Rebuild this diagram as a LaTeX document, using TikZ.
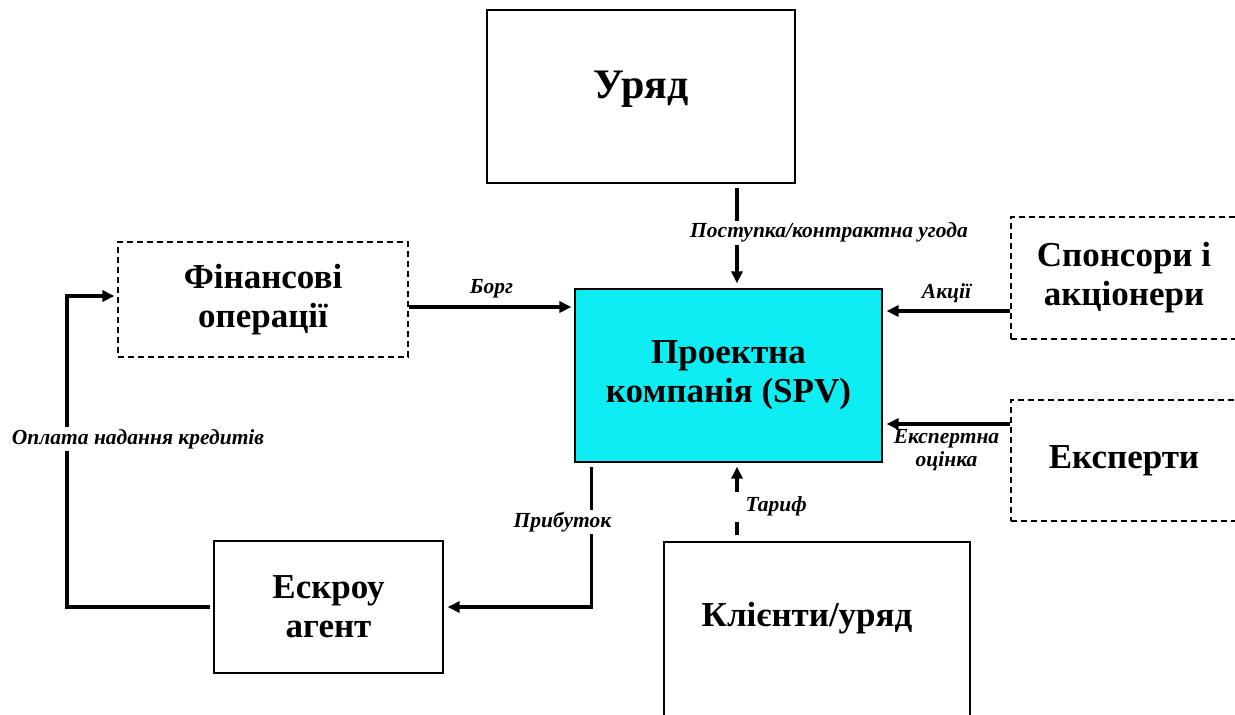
\documentclass[tikz,border=0pt]{standalone}
\usepackage{fontspec}
\setmainfont{Liberation Serif}
\usetikzlibrary{arrows.meta}
\definecolor{spvcyan}{RGB}{13,237,242}

\begin{document}
\begin{tikzpicture}[x=1pt, y=-1pt,
		box/.style={draw, line width=1.2pt, align=center, inner sep=0pt, font=\bfseries\fontsize{35}{39}\selectfont},
		dbox/.style={box, dash pattern=on 6pt off 4pt},
		arr/.style={line width=3.2pt, -{Triangle[length=12pt, width=11pt]}},
		lbl/.style={font=\bfseries\itshape\fontsize{21.5}{23}\selectfont, inner sep=2pt},
		gap/.style={lbl, fill=white}]
		\useasboundingbox (0,0) rectangle (1235,715);

		% учасники
		\node [box, minimum width=308pt, minimum height=173pt, font=\bfseries\fontsize{42}{46}\selectfont, text depth=24pt] (gov) at ( 641, 96.5 ) {Уряд};
		\node [dbox, minimum width=290pt, minimum height=115pt] (fin) at ( 263, 299.5 ) {Фінансові\\операції};
		\node [box, fill=spvcyan, minimum width=307pt, minimum height=173pt] (spv) at ( 728.5, 375.5 ) {Проектна\\компанія (SPV)};
		\node [dbox, minimum width=226pt, minimum height=122pt] (spons) at ( 1124, 278 ) {Спонсори і\\акціонери};
		\node [dbox, minimum width=226pt, minimum height=121pt] (exp) at ( 1124, 460.5 ) {Експерти};
		\node [box, minimum width=229pt, minimum height=132pt] (esc) at ( 328.5, 607 ) {Ескроу\\агент};
		\node [box, minimum width=306pt, minimum height=178pt, text depth=33pt] (cli) at ( 817, 631 ) {Клієнти/уряд\hspace*{20pt}};

		% потоки до SPV
		\draw [arr, shorten <=4pt, shorten >=5pt] ([xshift=96pt]gov.south) -- node [gap, pos=0.47, xshift=92pt] {Поступка/контрактна угода} ([xshift=8.5pt]spv.north);
		\draw [arr, shorten >=3pt] ([yshift=-7.5pt]fin.east) -- node [lbl, above=5pt] {Борг} ([yshift=-7.5pt]fin.east -| spv.west);
		\draw [arr, shorten >=4pt] ([yshift=-33pt]spons.west) -- node [lbl, above=5pt] {Акції} ([yshift=-33pt]spons.west -| spv.east);
		\draw [arr, shorten >=4pt] ([yshift=36.5pt]exp.west) -- node [lbl, below=2pt, align=center] {Експертна\\оцінка} ([yshift=36.5pt]exp.west -| spv.east);
		\draw [arr, shorten <=6pt, shorten >=4pt] ([xshift=-80pt]cli.north) -- node [gap, pos=0.44, anchor=west, xshift=-4pt, minimum height=30pt] {\hspace*{9pt}Тариф} ([xshift=8.5pt]spv.south);

		% потоки від SPV
		\draw [arr, shorten <=4pt, shorten >=4pt] ([xshift=17pt]spv.south west) |- node [gap, pos=0.207, xshift=-29pt] {Прибуток} (esc.east);

		% ескроу -> фінансові операції
		\coordinate (corner) at ( 67, 296 );
		\draw [arr, shorten <=3pt, shorten >=3pt] (esc.west) -- (esc.west -| corner) -- node [gap, pos=0.54, xshift=71pt] {Оплата надання кредитів} (corner) -- (corner -| fin.west);
	\end{tikzpicture}
\end{document}
